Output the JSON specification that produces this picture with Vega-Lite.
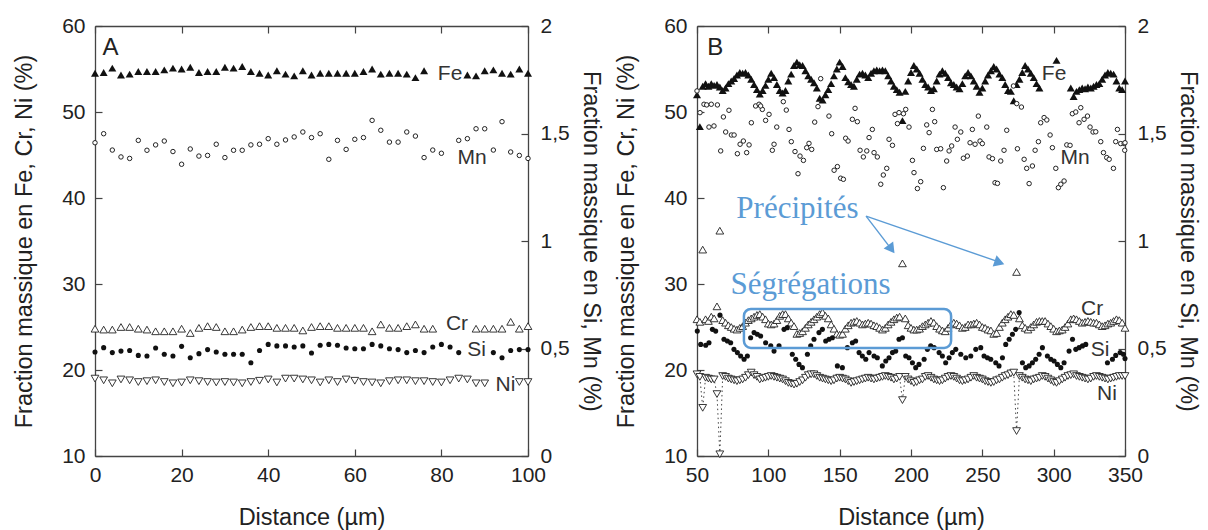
{
  "$schema": "https://vega.github.io/schema/vega-lite/v6.json",
  "padding": {"left": 12, "top": 15, "right": 5, "bottom": 2},
  "spacing": 11,
  "config": {
    "view": {"stroke": null},
    "axis": {"grid": false, "tickSize": -7, "tickWidth": 1.2, "tickColor": "#444", "domainColor": "#444", "domainWidth": 1.3,
      "labelFont": "Liberation Sans", "labelFontSize": 21, "labelColor": "#222",
      "titleFont": "Liberation Sans", "titleFontSize": 23.5, "titleFontWeight": "normal", "titleColor": "#222",
      "labelFlush": false, "labelOverlap": false},
    "axisLeft": {"labelPadding": 17, "titlePadding": 25},
    "axisRight": {"labelPadding": 19, "titlePadding": 9},
    "axisBottom": {"labelPadding": 15, "titlePadding": 20}
  },
  "datasets": {
    "A": [
      {"x":0,"Fe":54.5,"Mn":1.457,"Cr":24.8,"Si":0.484,"Ni":19.0},
      {"x":2,"Fe":54.6,"Mn":1.499,"Cr":24.7,"Si":0.504,"Ni":18.8},
      {"x":4,"Fe":55.1,"Mn":1.423,"Cr":24.7,"Si":0.481,"Ni":18.45},
      {"x":6,"Fe":54.3,"Mn":1.391,"Cr":25.0,"Si":0.488,"Ni":18.9},
      {"x":8,"Fe":54.4,"Mn":1.384,"Cr":25.0,"Si":0.491,"Ni":18.8},
      {"x":10,"Fe":54.7,"Mn":1.468,"Cr":24.8,"Si":0.468,"Ni":18.6},
      {"x":12,"Fe":54.7,"Mn":1.422,"Cr":24.7,"Si":0.465,"Ni":18.7},
      {"x":14,"Fe":54.7,"Mn":1.447,"Cr":24.5,"Si":0.502,"Ni":18.8},
      {"x":16,"Fe":54.9,"Mn":1.465,"Cr":24.5,"Si":0.473,"Ni":18.6},
      {"x":18,"Fe":55.1,"Mn":1.416,"Cr":24.5,"Si":0.465,"Ni":18.45},
      {"x":20,"Fe":55.0,"Mn":1.357,"Cr":24.8,"Si":0.510,"Ni":18.55},
      {"x":22,"Fe":55.2,"Mn":1.428,"Cr":24.3,"Si":0.457,"Ni":18.8},
      {"x":24,"Fe":54.6,"Mn":1.395,"Cr":24.9,"Si":0.476,"Ni":18.7},
      {"x":26,"Fe":54.7,"Mn":1.398,"Cr":25.1,"Si":0.495,"Ni":18.6},
      {"x":28,"Fe":54.7,"Mn":1.450,"Cr":25.0,"Si":0.484,"Ni":18.55},
      {"x":30,"Fe":55.2,"Mn":1.388,"Cr":24.5,"Si":0.473,"Ni":18.6},
      {"x":32,"Fe":55.1,"Mn":1.422,"Cr":24.5,"Si":0.473,"Ni":18.55},
      {"x":34,"Fe":55.3,"Mn":1.422,"Cr":24.7,"Si":0.473,"Ni":18.45},
      {"x":36,"Fe":54.7,"Mn":1.447,"Cr":25.0,"Si":0.434,"Ni":18.6},
      {"x":38,"Fe":54.5,"Mn":1.450,"Cr":25.1,"Si":0.491,"Ni":18.75},
      {"x":40,"Fe":54.3,"Mn":1.476,"Cr":25.1,"Si":0.519,"Ni":18.9},
      {"x":42,"Fe":54.8,"Mn":1.450,"Cr":24.9,"Si":0.512,"Ni":18.55},
      {"x":44,"Fe":54.4,"Mn":1.470,"Cr":24.9,"Si":0.512,"Ni":19.0},
      {"x":46,"Fe":54.2,"Mn":1.484,"Cr":24.9,"Si":0.507,"Ni":19.0},
      {"x":48,"Fe":54.8,"Mn":1.507,"Cr":24.6,"Si":0.512,"Ni":18.9},
      {"x":50,"Fe":54.3,"Mn":1.481,"Cr":25.0,"Si":0.479,"Ni":18.8},
      {"x":52,"Fe":54.5,"Mn":1.499,"Cr":25.1,"Si":0.515,"Ni":18.55},
      {"x":54,"Fe":54.5,"Mn":1.380,"Cr":25.1,"Si":0.519,"Ni":18.8},
      {"x":56,"Fe":54.5,"Mn":1.468,"Cr":24.9,"Si":0.515,"Ni":18.6},
      {"x":58,"Fe":54.5,"Mn":1.426,"Cr":24.9,"Si":0.502,"Ni":18.9},
      {"x":60,"Fe":54.5,"Mn":1.473,"Cr":24.9,"Si":0.499,"Ni":18.75},
      {"x":62,"Fe":54.7,"Mn":1.481,"Cr":24.9,"Si":0.499,"Ni":18.6},
      {"x":64,"Fe":55.0,"Mn":1.561,"Cr":24.5,"Si":0.519,"Ni":18.55},
      {"x":66,"Fe":54.4,"Mn":1.515,"Cr":25.3,"Si":0.512,"Ni":18.45},
      {"x":68,"Fe":54.5,"Mn":1.460,"Cr":24.9,"Si":0.499,"Ni":18.7},
      {"x":70,"Fe":54.5,"Mn":1.460,"Cr":24.9,"Si":0.495,"Ni":18.8},
      {"x":72,"Fe":54.4,"Mn":1.507,"Cr":25.1,"Si":0.481,"Ni":18.8},
      {"x":74,"Fe":54.0,"Mn":1.488,"Cr":25.3,"Si":0.491,"Ni":18.7},
      {"x":76,"Fe":54.8,"Mn":1.388,"Cr":24.8,"Si":0.481,"Ni":18.7},
      {"x":78,"Fe":null,"Mn":1.423,"Cr":24.8,"Si":0.507,"Ni":18.6},
      {"x":80,"Fe":null,"Mn":1.408,"Cr":null,"Si":0.519,"Ni":18.55},
      {"x":82,"Fe":null,"Mn":null,"Cr":null,"Si":0.507,"Ni":18.8},
      {"x":84,"Fe":null,"Mn":1.468,"Cr":null,"Si":0.481,"Ni":19.0},
      {"x":86,"Fe":54.3,"Mn":1.476,"Cr":null,"Si":null,"Ni":18.9},
      {"x":88,"Fe":54.2,"Mn":1.522,"Cr":24.8,"Si":null,"Ni":18.45},
      {"x":90,"Fe":54.8,"Mn":1.522,"Cr":24.8,"Si":null,"Ni":18.45},
      {"x":92,"Fe":54.9,"Mn":1.423,"Cr":24.8,"Si":0.481,"Ni":null},
      {"x":94,"Fe":54.5,"Mn":1.555,"Cr":24.8,"Si":0.457,"Ni":null},
      {"x":96,"Fe":54.4,"Mn":1.414,"Cr":25.6,"Si":0.491,"Ni":null},
      {"x":98,"Fe":55.0,"Mn":1.398,"Cr":24.8,"Si":0.495,"Ni":18.6},
      {"x":100,"Fe":54.5,"Mn":1.384,"Cr":25.1,"Si":0.495,"Ni":18.6}
    ],
    "letA": [{"x":3.6,"y":57.4,"t":"A"}],
    "letB": [{"x":62.8,"y":57.4,"t":"B"}],
    "labA": [
      {"x":82,"y":54.4,"t":"Fe"},{"x":87.1,"y":44.65,"t":"Mn"},
      {"x":83.6,"y":25.35,"t":"Cr"},{"x":88.1,"y":22.3,"t":"Si"},{"x":94.8,"y":18.3,"t":"Ni"}
    ],
    "labB": [
      {"x":300.3,"y":54.4,"t":"Fe"},{"x":315,"y":44.65,"t":"Mn"},
      {"x":326.9,"y":27.1,"t":"Cr"},{"x":332.5,"y":22.3,"t":"Si"},{"x":337.4,"y":17.2,"t":"Ni"}
    ],
    "noteB": [
      {"x":120.4,"y":38.7,"t":"Précipités"},{"x":129.6,"y":29.9,"t":"Ségrégations"}
    ],
    "boxB": [{"x":82.9,"x2":228.1,"y":27.1,"y2":22.56}],
    "arrowB": [{"x":168.5,"y":37.9,"x2":186.5,"y2":34.0},{"x":168.5,"y":37.9,"x2":261.0,"y2":32.6}],
    "head1": [{"x":186.3,"y":34.05}],
    "head2": [{"x":262.0,"y":32.5}],
    "B": [
      {"x":50,"Fe":52.0,"Cr":25.9,"Ni":19.5},{"x":52,"Fe":48.3,"Cr":25.6,"Ni":19.2},{"x":54,"Fe":53.0,"Cr":34.0,"Ni":15.6},
      {"x":56,"Fe":53.3,"Cr":25.9,"Ni":19.1},{"x":58,"Fe":53.0,"Cr":25.7,"Ni":19.0},{"x":60,"Fe":53.3,"Cr":26.2,"Ni":18.9},
      {"x":62,"Fe":53.1,"Cr":26.0,"Ni":18.9},{"x":64,"Fe":53.2,"Cr":27.4,"Ni":17.2},{"x":66,"Fe":52.9,"Cr":36.2,"Ni":10.2},
      {"x":68,"Fe":52.5,"Cr":25.8,"Ni":19.3},{"x":70,"Fe":52.8,"Cr":25.5,"Ni":19.2},{"x":72,"Fe":53.3,"Cr":25.2,"Ni":19.0},
      {"x":74,"Fe":53.6,"Cr":25.0,"Ni":18.9},{"x":76,"Fe":53.9,"Cr":24.8,"Ni":18.8},{"x":78,"Fe":54.3,"Cr":24.7,"Ni":18.7},
      {"x":80,"Fe":54.6,"Cr":24.9,"Ni":18.8},{"x":82,"Fe":54.5,"Cr":25.1,"Ni":18.9},{"x":84,"Fe":54.6,"Cr":25.5,"Ni":19.1},
      {"x":86,"Fe":54.3,"Cr":25.8,"Ni":19.4},{"x":88,"Fe":53.8,"Cr":26.0,"Ni":19.7},{"x":90,"Fe":53.2,"Cr":26.2,"Ni":19.4},
      {"x":92,"Fe":52.6,"Cr":26.4,"Ni":19.2},{"x":94,"Fe":52.1,"Cr":26.5,"Ni":18.9},{"x":96,"Fe":52.5,"Cr":26.2,"Ni":19.0},
      {"x":98,"Fe":53.1,"Cr":25.9,"Ni":19.1},{"x":100,"Fe":53.8,"Cr":25.4,"Ni":19.2},{"x":102,"Fe":54.5,"Cr":25.3,"Ni":19.3},
      {"x":104,"Fe":54.0,"Cr":25.4,"Ni":19.2},{"x":106,"Fe":53.2,"Cr":25.8,"Ni":19.1},{"x":108,"Fe":52.5,"Cr":26.3,"Ni":19.0},
      {"x":110,"Fe":52.2,"Cr":26.5,"Ni":18.9},{"x":112,"Fe":52.5,"Cr":26.5,"Ni":18.7},{"x":114,"Fe":53.6,"Cr":26.0,"Ni":18.5},
      {"x":116,"Fe":54.4,"Cr":25.5,"Ni":18.4},{"x":118,"Fe":55.4,"Cr":25.1,"Ni":18.3},{"x":120,"Fe":55.8,"Cr":24.2,"Ni":18.4},
      {"x":122,"Fe":55.5,"Cr":24.3,"Ni":18.6},{"x":124,"Fe":55.4,"Cr":24.5,"Ni":18.8},{"x":126,"Fe":54.8,"Cr":24.9,"Ni":19.1},
      {"x":128,"Fe":54.2,"Cr":25.3,"Ni":19.4},{"x":130,"Fe":53.8,"Cr":25.6,"Ni":19.5},{"x":132,"Fe":53.4,"Cr":25.9,"Ni":19.5},
      {"x":134,"Fe":52.8,"Cr":26.2,"Ni":19.3},{"x":136,"Fe":51.6,"Cr":26.5,"Ni":19.1},{"x":138,"Fe":51.4,"Cr":26.7,"Ni":19.0},
      {"x":140,"Fe":52.0,"Cr":26.3,"Ni":18.9},{"x":142,"Fe":52.6,"Cr":26.0,"Ni":18.8},{"x":144,"Fe":53.3,"Cr":25.3,"Ni":18.7},
      {"x":146,"Fe":54.2,"Cr":24.8,"Ni":18.8},{"x":148,"Fe":55.0,"Cr":24.2,"Ni":19.0},{"x":150,"Fe":55.8,"Cr":24.1,"Ni":19.1},
      {"x":152,"Fe":55.3,"Cr":24.2,"Ni":19.0},{"x":154,"Fe":54.0,"Cr":24.8,"Ni":18.9},{"x":156,"Fe":53.5,"Cr":25.2,"Ni":18.7},
      {"x":158,"Fe":53.2,"Cr":25.5,"Ni":18.5},{"x":160,"Fe":53.0,"Cr":25.6,"Ni":18.6},{"x":162,"Fe":53.8,"Cr":25.7,"Ni":18.7},
      {"x":164,"Fe":54.4,"Cr":25.5,"Ni":18.8},{"x":166,"Fe":54.5,"Cr":25.3,"Ni":18.9},{"x":168,"Fe":54.3,"Cr":25.4,"Ni":19.0},
      {"x":170,"Fe":54.0,"Cr":25.5,"Ni":19.1},{"x":172,"Fe":54.5,"Cr":25.4,"Ni":19.0},{"x":174,"Fe":54.8,"Cr":25.2,"Ni":18.9},
      {"x":176,"Fe":54.9,"Cr":25.1,"Ni":19.0},{"x":178,"Fe":54.8,"Cr":24.9,"Ni":19.1},{"x":180,"Fe":54.9,"Cr":24.7,"Ni":19.2},
      {"x":182,"Fe":54.8,"Cr":24.9,"Ni":19.3},{"x":184,"Fe":54.2,"Cr":25.3,"Ni":19.2},{"x":186,"Fe":53.6,"Cr":25.6,"Ni":19.1},
      {"x":188,"Fe":53.0,"Cr":25.9,"Ni":18.9},{"x":190,"Fe":52.6,"Cr":26.1,"Ni":19.0},{"x":192,"Fe":52.3,"Cr":26.2,"Ni":19.2},
      {"x":194,"Fe":49.0,"Cr":32.4,"Ni":16.5},{"x":196,"Fe":52.4,"Cr":26.0,"Ni":19.2},{"x":198,"Fe":53.6,"Cr":25.2,"Ni":18.9},
      {"x":200,"Fe":54.6,"Cr":24.9,"Ni":18.7},{"x":202,"Fe":55.4,"Cr":24.7,"Ni":18.5},{"x":204,"Fe":55.0,"Cr":24.7,"Ni":18.6},
      {"x":206,"Fe":54.5,"Cr":24.8,"Ni":18.8},{"x":208,"Fe":53.8,"Cr":25.1,"Ni":18.9},{"x":210,"Fe":53.2,"Cr":25.3,"Ni":19.2},
      {"x":212,"Fe":52.9,"Cr":25.5,"Ni":19.3},{"x":214,"Fe":52.5,"Cr":25.7,"Ni":19.1},{"x":216,"Fe":52.7,"Cr":25.5,"Ni":18.9},
      {"x":218,"Fe":53.6,"Cr":25.1,"Ni":18.8},{"x":220,"Fe":54.4,"Cr":24.8,"Ni":18.7},{"x":222,"Fe":54.8,"Cr":24.6,"Ni":18.8},
      {"x":224,"Fe":54.5,"Cr":24.5,"Ni":19.0},{"x":226,"Fe":54.0,"Cr":24.9,"Ni":19.2},{"x":228,"Fe":53.4,"Cr":25.3,"Ni":19.3},
      {"x":230,"Fe":53.2,"Cr":25.5,"Ni":19.2},{"x":232,"Fe":52.9,"Cr":25.4,"Ni":19.0},{"x":234,"Fe":52.7,"Cr":25.2,"Ni":18.8},
      {"x":236,"Fe":53.3,"Cr":24.9,"Ni":18.7},{"x":238,"Fe":54.2,"Cr":25.0,"Ni":18.8},{"x":240,"Fe":54.6,"Cr":25.3,"Ni":18.9},
      {"x":242,"Fe":54.2,"Cr":25.3,"Ni":19.1},{"x":244,"Fe":53.6,"Cr":25.4,"Ni":19.3},{"x":246,"Fe":53.0,"Cr":25.5,"Ni":19.1},
      {"x":248,"Fe":52.3,"Cr":25.3,"Ni":19.0},{"x":250,"Fe":52.8,"Cr":25.0,"Ni":18.9},{"x":252,"Fe":53.6,"Cr":24.9,"Ni":18.7},
      {"x":254,"Fe":54.3,"Cr":24.7,"Ni":18.6},{"x":256,"Fe":54.8,"Cr":24.6,"Ni":18.5},{"x":258,"Fe":55.3,"Cr":24.2,"Ni":18.6},
      {"x":260,"Fe":55.0,"Cr":24.3,"Ni":18.8},{"x":262,"Fe":54.4,"Cr":25.0,"Ni":18.9},{"x":264,"Fe":54.0,"Cr":25.5,"Ni":19.1},
      {"x":266,"Fe":53.2,"Cr":25.9,"Ni":19.3},{"x":268,"Fe":52.5,"Cr":26.2,"Ni":19.4},{"x":270,"Fe":52.4,"Cr":26.5,"Ni":19.6},
      {"x":272,"Fe":51.3,"Cr":26.4,"Ni":19.7},{"x":274,"Fe":53.2,"Cr":31.4,"Ni":12.9},{"x":276,"Fe":53.8,"Cr":26.0,"Ni":19.3},
      {"x":278,"Fe":54.6,"Cr":25.2,"Ni":19.1},{"x":280,"Fe":55.4,"Cr":24.9,"Ni":18.9},{"x":282,"Fe":55.0,"Cr":24.7,"Ni":18.8},
      {"x":284,"Fe":54.5,"Cr":25.0,"Ni":18.7},{"x":286,"Fe":54.0,"Cr":25.3,"Ni":18.9},{"x":288,"Fe":53.3,"Cr":25.6,"Ni":19.0},
      {"x":290,"Fe":52.8,"Cr":25.7,"Ni":19.1},{"x":292,"Fe":null,"Cr":25.7,"Ni":19.3},{"x":294,"Fe":null,"Cr":25.7,"Ni":19.2},
      {"x":296,"Fe":null,"Cr":25.4,"Ni":19.0},{"x":298,"Fe":null,"Cr":25.1,"Ni":18.8},{"x":300,"Fe":null,"Cr":24.8,"Ni":18.6},
      {"x":302,"Fe":56.0,"Cr":24.5,"Ni":18.5},{"x":304,"Fe":null,"Cr":24.6,"Ni":18.7},{"x":306,"Fe":null,"Cr":24.7,"Ni":18.9},
      {"x":308,"Fe":null,"Cr":25.0,"Ni":19.1},{"x":310,"Fe":null,"Cr":25.4,"Ni":19.3},{"x":312,"Fe":52.8,"Cr":25.9,"Ni":19.4},
      {"x":314,"Fe":51.8,"Cr":26.0,"Ni":19.5},{"x":316,"Fe":52.4,"Cr":25.9,"Ni":19.3},{"x":318,"Fe":52.6,"Cr":25.7,"Ni":19.2},
      {"x":320,"Fe":52.8,"Cr":25.5,"Ni":19.1},{"x":322,"Fe":52.7,"Cr":25.6,"Ni":19.0},{"x":324,"Fe":52.9,"Cr":25.7,"Ni":18.9},
      {"x":326,"Fe":52.8,"Cr":25.6,"Ni":19.0},{"x":328,"Fe":53.0,"Cr":25.5,"Ni":19.2},{"x":330,"Fe":53.2,"Cr":25.5,"Ni":19.3},
      {"x":332,"Fe":53.3,"Cr":25.3,"Ni":19.2},{"x":334,"Fe":53.8,"Cr":25.1,"Ni":19.1},{"x":336,"Fe":54.3,"Cr":25.2,"Ni":19.0},
      {"x":338,"Fe":54.6,"Cr":25.4,"Ni":18.9},{"x":340,"Fe":54.5,"Cr":25.5,"Ni":19.0},{"x":342,"Fe":54.4,"Cr":25.7,"Ni":19.1},
      {"x":344,"Fe":53.6,"Cr":25.9,"Ni":19.2},{"x":346,"Fe":52.8,"Cr":25.8,"Ni":19.3},{"x":348,"Fe":52.6,"Cr":25.5,"Ni":19.3},
      {"x":350,"Fe":53.6,"Cr":24.9,"Ni":19.3}
    ],
    "BMn": [
      {"x":50,"Mn":1.698},{"x":52.1,"Mn":1.597},{"x":54.9,"Mn":1.636},{"x":56.8,"Mn":1.633},{"x":60.0,"Mn":1.636},{"x":64.3,"Mn":1.633},
      {"x":58.4,"Mn":1.530},{"x":61.9,"Mn":1.535},{"x":66.6,"Mn":1.419},{"x":68.5,"Mn":1.577},{"x":70.1,"Mn":1.507},{"x":74.1,"Mn":1.493},
      {"x":76.0,"Mn":1.493},{"x":72.4,"Mn":1.608},{"x":78.3,"Mn":1.406},{"x":80.2,"Mn":1.450},{"x":82.5,"Mn":1.465},{"x":84.8,"Mn":1.411},
      {"x":86.5,"Mn":1.447},{"x":88.1,"Mn":1.550},{"x":91.1,"Mn":1.628},{"x":93.5,"Mn":1.636},{"x":95.8,"Mn":1.612},{"x":94.6,"Mn":1.628},
      {"x":98.1,"Mn":1.561},{"x":100.5,"Mn":1.589},{"x":102.8,"Mn":1.422},{"x":104.0,"Mn":1.450},{"x":105.9,"Mn":1.530},{"x":110.5,"Mn":1.648},
      {"x":112.6,"Mn":1.609},{"x":114.5,"Mn":1.519},{"x":116.1,"Mn":1.462},{"x":118.7,"Mn":1.416},{"x":122.2,"Mn":1.395},{"x":124.6,"Mn":1.375},
      {"x":120.8,"Mn":1.313},{"x":126.9,"Mn":1.434},{"x":128.5,"Mn":1.454},{"x":130.4,"Mn":1.426},{"x":132.5,"Mn":1.553},{"x":134.8,"Mn":1.625},
      {"x":136.7,"Mn":1.755},{"x":142.5,"Mn":1.581},{"x":144.4,"Mn":1.499},{"x":146.1,"Mn":1.329},{"x":148.4,"Mn":1.346},{"x":150.7,"Mn":1.292},
      {"x":152.6,"Mn":1.287},{"x":154.2,"Mn":1.478},{"x":155.9,"Mn":1.465},{"x":158.9,"Mn":1.566},{"x":162.4,"Mn":1.555},{"x":160.8,"Mn":1.617},
      {"x":164.3,"Mn":1.422},{"x":166.6,"Mn":1.391},{"x":169.0,"Mn":1.419},{"x":170.6,"Mn":1.481},{"x":172.9,"Mn":1.519},{"x":174.1,"Mn":1.411},
      {"x":176.4,"Mn":1.391},{"x":178.8,"Mn":1.264},{"x":180.6,"Mn":1.307},{"x":183.0,"Mn":1.338},{"x":184.6,"Mn":1.473},{"x":187.0,"Mn":1.445},
      {"x":188.8,"Mn":1.589},{"x":190.5,"Mn":1.546},{"x":191.6,"Mn":1.597},{"x":194.7,"Mn":1.592},{"x":196.3,"Mn":1.612},{"x":198.6,"Mn":1.530},
      {"x":201.0,"Mn":1.375},{"x":202.1,"Mn":1.318},{"x":204.5,"Mn":1.244},{"x":206.8,"Mn":1.276},{"x":208.7,"Mn":1.431},{"x":211.0,"Mn":1.540},
      {"x":212.7,"Mn":1.504},{"x":215.0,"Mn":1.612},{"x":216.6,"Mn":1.555},{"x":218.0,"Mn":1.426},{"x":220.8,"Mn":1.429},{"x":222.7,"Mn":1.248},
      {"x":225.0,"Mn":1.372},{"x":226.7,"Mn":1.419},{"x":228.5,"Mn":1.442},{"x":230.9,"Mn":1.530},{"x":232.5,"Mn":1.473},{"x":234.9,"Mn":1.507},
      {"x":236.7,"Mn":1.385},{"x":239.5,"Mn":1.395},{"x":241.4,"Mn":1.457},{"x":243.0,"Mn":1.519},{"x":244.9,"Mn":1.450},{"x":247.2,"Mn":1.581},
      {"x":248.4,"Mn":1.465},{"x":250.0,"Mn":1.453},{"x":253.1,"Mn":1.530},{"x":254.7,"Mn":1.391},{"x":257.1,"Mn":1.383},{"x":258.9,"Mn":1.271},
      {"x":260.6,"Mn":1.268},{"x":262.9,"Mn":1.372},{"x":265.2,"Mn":1.422},{"x":267.1,"Mn":1.515},{"x":271.8,"Mn":1.721},{"x":274.1,"Mn":1.639},
      {"x":277.4,"Mn":1.623},{"x":274.6,"Mn":1.429},{"x":279.3,"Mn":1.380},{"x":281.1,"Mn":1.338},{"x":282.8,"Mn":1.267},{"x":285.1,"Mn":1.349},
      {"x":287.0,"Mn":1.422},{"x":289.3,"Mn":1.462},{"x":290.9,"Mn":1.550},{"x":293.3,"Mn":1.574},{"x":295.2,"Mn":1.563},{"x":297.5,"Mn":1.493},
      {"x":299.1,"Mn":1.434},{"x":301.5,"Mn":1.338},{"x":303.3,"Mn":1.248},{"x":305.0,"Mn":1.264},{"x":307.3,"Mn":1.279},{"x":309.2,"Mn":1.447},
      {"x":311.5,"Mn":1.445},{"x":313.1,"Mn":1.592},{"x":315.5,"Mn":1.600},{"x":319.0,"Mn":1.620},{"x":317.8,"Mn":1.550},{"x":321.3,"Mn":1.566},
      {"x":323.7,"Mn":1.581},{"x":325.5,"Mn":1.530},{"x":327.6,"Mn":1.507},{"x":329.5,"Mn":1.508},{"x":333.0,"Mn":1.462},{"x":334.9,"Mn":1.411},
      {"x":337.2,"Mn":1.388},{"x":338.9,"Mn":1.380},{"x":341.9,"Mn":1.338},{"x":344.7,"Mn":1.519},{"x":343.5,"Mn":1.462},{"x":347.0,"Mn":1.453},
      {"x":349.4,"Mn":1.453},{"x":350.0,"Mn":1.457},{"x":349.8,"Mn":1.422}
    ],
    "BSi": [
      {"x":50.2,"Si":0.581},{"x":52.6,"Si":0.519},{"x":56.1,"Si":0.515},{"x":58.4,"Si":0.527},{"x":60.8,"Si":0.589},{"x":63.1,"Si":0.581},
      {"x":66.1,"Si":0.655},{"x":68.9,"Si":0.543},{"x":71.3,"Si":0.535},{"x":73.6,"Si":0.527},{"x":75.9,"Si":0.496},{"x":78.3,"Si":0.481},
      {"x":80.6,"Si":0.465},{"x":83.0,"Si":0.450},{"x":85.3,"Si":0.465},{"x":87.6,"Si":0.550},{"x":90.0,"Si":0.574},{"x":92.3,"Si":0.566},
      {"x":94.6,"Si":0.558},{"x":98.1,"Si":0.527},{"x":101.7,"Si":0.512},{"x":104.0,"Si":0.488},{"x":107.5,"Si":0.512},{"x":111.0,"Si":0.589},
      {"x":113.3,"Si":0.597},{"x":116.8,"Si":0.473},{"x":119.2,"Si":0.450},{"x":121.5,"Si":0.426},{"x":123.9,"Si":0.411},{"x":127.4,"Si":0.473},
      {"x":129.7,"Si":0.512},{"x":132.0,"Si":0.543},{"x":135.5,"Si":0.574},{"x":137.9,"Si":0.589},{"x":140.2,"Si":0.535},{"x":142.5,"Si":0.543},
      {"x":144.9,"Si":0.550},{"x":148.4,"Si":0.419},{"x":151.9,"Si":0.411},{"x":155.4,"Si":0.504},{"x":158.9,"Si":0.527},{"x":161.2,"Si":0.535},
      {"x":163.6,"Si":0.481},{"x":165.9,"Si":0.465},{"x":168.3,"Si":0.450},{"x":170.6,"Si":0.481},{"x":174.1,"Si":0.465},{"x":176.4,"Si":0.457},
      {"x":179.9,"Si":0.419},{"x":182.3,"Si":0.442},{"x":184.6,"Si":0.457},{"x":187.0,"Si":0.481},{"x":189.3,"Si":0.488},{"x":191.6,"Si":0.543},
      {"x":194.0,"Si":0.550},{"x":196.3,"Si":0.465},{"x":198.6,"Si":0.457},{"x":201.0,"Si":0.434},{"x":203.3,"Si":0.411},{"x":205.6,"Si":0.426},
      {"x":209.2,"Si":0.450},{"x":211.5,"Si":0.496},{"x":213.8,"Si":0.512},{"x":216.2,"Si":0.504},{"x":219.7,"Si":0.481},{"x":222.0,"Si":0.465},
      {"x":224.3,"Si":0.434},{"x":226.7,"Si":0.457},{"x":229.0,"Si":0.481},{"x":231.4,"Si":0.496},{"x":234.9,"Si":0.473},{"x":238.4,"Si":0.457},
      {"x":241.9,"Si":0.465},{"x":245.4,"Si":0.496},{"x":248.9,"Si":0.504},{"x":251.2,"Si":0.465},{"x":253.6,"Si":0.457},{"x":255.9,"Si":0.450},
      {"x":259.4,"Si":0.434},{"x":261.7,"Si":0.419},{"x":264.1,"Si":0.457},{"x":266.4,"Si":0.519},{"x":268.8,"Si":0.543},{"x":271.1,"Si":0.566},
      {"x":273.4,"Si":0.589},{"x":275.8,"Si":0.667},{"x":278.1,"Si":0.434},{"x":280.4,"Si":0.411},{"x":282.8,"Si":0.419},{"x":285.1,"Si":0.434},
      {"x":287.4,"Si":0.450},{"x":289.8,"Si":0.473},{"x":292.1,"Si":0.504},{"x":295.6,"Si":0.465},{"x":298.0,"Si":0.450},{"x":300.3,"Si":0.442},
      {"x":302.6,"Si":0.426},{"x":305.0,"Si":0.411},{"x":307.3,"Si":0.434},{"x":310.8,"Si":0.488},{"x":313.2,"Si":0.543},{"x":315.5,"Si":0.496},
      {"x":317.8,"Si":0.504},{"x":320.2,"Si":0.512},{"x":322.5,"Si":0.519},{"x":337.7,"Si":0.434},{"x":341.2,"Si":0.450},{"x":343.5,"Si":0.468},
      {"x":346.6,"Si":0.481},{"x":348.9,"Si":0.473},{"x":350.0,"Si":0.453}
    ]
  },
  "hconcat": [
    {
      "width": 433, "height": 430,
      "data": {"name": "A"},
      "resolve": {"scale": {"x": "independent", "y": "independent"}},
      "encoding": {"x": {"field": "x", "type": "quantitative", "scale": {"domain": [0, 100], "nice": false, "zero": false}, "axis": null}},
      "layer": [
        {"mark": {"type": "point", "shape": "triangle-up", "filled": true, "color": "#111", "size": 64, "opacity": 1},
         "encoding": {
           "x": {"field": "x", "type": "quantitative", "scale": {"domain": [0, 100], "nice": false, "zero": false}, "axis": {"orient": "bottom", "values": [0, 20, 40, 60, 80, 100]}, "title": "Distance (µm)"},
           "y": {"field": "Fe", "type": "quantitative", "scale": {"domain": [10, 60], "nice": false, "zero": false}, "axis": {"orient": "left", "values": [10, 20, 30, 40, 50, 60]}, "title": "Fraction massique en Fe, Cr, Ni (%)"}}},
        {"mark": {"type": "point", "shape": "triangle-up", "filled": true, "fill": "white", "stroke": "#222", "strokeWidth": 0.9, "size": 60, "opacity": 1},
         "encoding": {"y": {"field": "Cr", "type": "quantitative", "scale": {"domain": [10, 60], "nice": false, "zero": false}, "axis": null}}},
        {"mark": {"type": "point", "shape": "triangle-down", "filled": true, "fill": "white", "stroke": "#222", "strokeWidth": 0.9, "size": 60, "opacity": 1},
         "encoding": {"y": {"field": "Ni", "type": "quantitative", "scale": {"domain": [10, 60], "nice": false, "zero": false}, "axis": null}}},
        {"mark": {"type": "point", "shape": "circle", "filled": true, "fill": "white", "stroke": "#222", "strokeWidth": 1, "size": 20, "opacity": 1},
         "encoding": {
           "x": {"field": "x", "type": "quantitative", "scale": {"domain": [0, 100], "nice": false, "zero": false}, "axis": {"orient": "top", "labels": false, "values": [0, 20, 40, 60, 80, 100]}, "title": null},
           "y": {"field": "Mn", "type": "quantitative", "scale": {"domain": [0, 2], "nice": false, "zero": false}, "axis": {"orient": "right", "values": [0, 0.5, 1, 1.5, 2], "labelExpr": "replace(format(datum.value, '~g'), '.', ',')"}, "title": "Fraction massique en Si, Mn (%)"}}},
        {"mark": {"type": "point", "shape": "circle", "filled": true, "color": "#111", "size": 26, "opacity": 1},
         "encoding": {"y": {"field": "Si", "type": "quantitative", "scale": {"domain": [0, 2], "nice": false, "zero": false}, "axis": null}}},
        {"data": {"name": "labA"}, "mark": {"type": "text", "font": "Liberation Sans", "fontSize": 21, "color": "#333", "align": "center", "baseline": "middle"},
         "encoding": {
           "x": {"field": "x", "type": "quantitative", "scale": {"domain": [0, 100], "nice": false, "zero": false}, "axis": null},
           "y": {"field": "y", "type": "quantitative", "scale": {"domain": [10, 60], "nice": false, "zero": false}, "axis": null},
           "text": {"field": "t", "type": "nominal"}}},
        {"data": {"name": "letA"}, "mark": {"type": "text", "font": "Liberation Sans", "fontSize": 24, "color": "#222", "align": "center", "baseline": "middle"},
         "encoding": {
           "x": {"field": "x", "type": "quantitative", "scale": {"domain": [0, 100], "nice": false, "zero": false}, "axis": null},
           "y": {"field": "y", "type": "quantitative", "scale": {"domain": [10, 60], "nice": false, "zero": false}, "axis": null},
           "text": {"field": "t", "type": "nominal"}}}
      ]
    },
    {
      "width": 428, "height": 430,
      "resolve": {"scale": {"x": "independent", "y": "independent"}},
      "encoding": {"x": {"field": "x", "type": "quantitative", "scale": {"domain": [50, 350], "nice": false, "zero": false}, "axis": null}},
      "layer": [
        {"data": {"name": "B"}, "mark": {"type": "line", "color": "#444", "strokeWidth": 1, "strokeDash": [1.5, 3]},
         "encoding": {"y": {"field": "Ni", "type": "quantitative", "scale": {"domain": [10, 60], "nice": false, "zero": false}, "axis": null}}},
        {"data": {"name": "B"}, "mark": {"type": "point", "shape": "triangle-up", "filled": true, "color": "#111", "size": 64, "opacity": 1},
         "encoding": {
           "x": {"field": "x", "type": "quantitative", "scale": {"domain": [50, 350], "nice": false, "zero": false}, "axis": {"orient": "bottom", "values": [50, 100, 150, 200, 250, 300, 350]}, "title": "Distance (µm)"},
           "y": {"field": "Fe", "type": "quantitative", "scale": {"domain": [10, 60], "nice": false, "zero": false}, "axis": {"orient": "left", "values": [10, 20, 30, 40, 50, 60]}, "title": "Fraction massique en Fe, Cr, Ni (%)"}}},
        {"data": {"name": "B"}, "mark": {"type": "point", "shape": "triangle-up", "filled": true, "fill": "white", "stroke": "#222", "strokeWidth": 0.9, "size": 60, "opacity": 1},
         "encoding": {"y": {"field": "Cr", "type": "quantitative", "scale": {"domain": [10, 60], "nice": false, "zero": false}, "axis": null}}},
        {"data": {"name": "B"}, "mark": {"type": "point", "shape": "triangle-down", "filled": true, "fill": "white", "stroke": "#222", "strokeWidth": 0.9, "size": 60, "opacity": 1},
         "encoding": {"y": {"field": "Ni", "type": "quantitative", "scale": {"domain": [10, 60], "nice": false, "zero": false}, "axis": null}}},
        {"data": {"name": "BMn"}, "mark": {"type": "point", "shape": "circle", "filled": true, "fill": "white", "stroke": "#222", "strokeWidth": 1, "size": 20, "opacity": 1},
         "encoding": {
           "x": {"field": "x", "type": "quantitative", "scale": {"domain": [50, 350], "nice": false, "zero": false}, "axis": {"orient": "top", "labels": false, "values": [50, 100, 150, 200, 250, 300, 350]}, "title": null},
           "y": {"field": "Mn", "type": "quantitative", "scale": {"domain": [0, 2], "nice": false, "zero": false}, "axis": {"orient": "right", "values": [0, 0.5, 1, 1.5, 2], "labelExpr": "replace(format(datum.value, '~g'), '.', ',')"}, "title": "Fraction massique en Si, Mn (%)"}}},
        {"data": {"name": "BSi"}, "mark": {"type": "point", "shape": "circle", "filled": true, "color": "#111", "size": 26, "opacity": 1},
         "encoding": {"y": {"field": "Si", "type": "quantitative", "scale": {"domain": [0, 2], "nice": false, "zero": false}, "axis": null}}},
        {"data": {"name": "labB"}, "mark": {"type": "text", "font": "Liberation Sans", "fontSize": 21, "color": "#333", "align": "center", "baseline": "middle"},
         "encoding": {
           "y": {"field": "y", "type": "quantitative", "scale": {"domain": [10, 60], "nice": false, "zero": false}, "axis": null},
           "text": {"field": "t", "type": "nominal"}}},
        {"data": {"name": "letB"}, "mark": {"type": "text", "font": "Liberation Sans", "fontSize": 24, "color": "#222", "align": "center", "baseline": "middle"},
         "encoding": {
           "y": {"field": "y", "type": "quantitative", "scale": {"domain": [10, 60], "nice": false, "zero": false}, "axis": null},
           "text": {"field": "t", "type": "nominal"}}},
        {"data": {"name": "noteB"}, "mark": {"type": "text", "font": "Liberation Serif", "fontSize": 31, "color": "#5B9BD5", "align": "center", "baseline": "middle"},
         "encoding": {
           "y": {"field": "y", "type": "quantitative", "scale": {"domain": [10, 60], "nice": false, "zero": false}, "axis": null},
           "text": {"field": "t", "type": "nominal"}}},
        {"data": {"name": "boxB"}, "mark": {"type": "rect", "fillOpacity": 0, "stroke": "#5B9BD5", "strokeWidth": 2.5, "cornerRadius": 7},
         "encoding": {
           "x2": {"field": "x2"},
           "y": {"field": "y", "type": "quantitative", "scale": {"domain": [10, 60], "nice": false, "zero": false}, "axis": null},
           "y2": {"field": "y2"}}},
        {"data": {"name": "arrowB"}, "mark": {"type": "rule", "color": "#5B9BD5", "strokeWidth": 1.4},
         "encoding": {
           "x2": {"field": "x2"},
           "y": {"field": "y", "type": "quantitative", "scale": {"domain": [10, 60], "nice": false, "zero": false}, "axis": null},
           "y2": {"field": "y2"}}},
        {"data": {"name": "head1"}, "mark": {"type": "point", "shape": "triangle-up", "filled": true, "color": "#5B9BD5", "size": 140, "angle": 143.6, "opacity": 1},
         "encoding": {"y": {"field": "y", "type": "quantitative", "scale": {"domain": [10, 60], "nice": false, "zero": false}, "axis": null}}},
        {"data": {"name": "head2"}, "mark": {"type": "point", "shape": "triangle-up", "filled": true, "color": "#5B9BD5", "size": 140, "angle": 109.1, "opacity": 1},
         "encoding": {"y": {"field": "y", "type": "quantitative", "scale": {"domain": [10, 60], "nice": false, "zero": false}, "axis": null}}}
      ]
    }
  ]
}
